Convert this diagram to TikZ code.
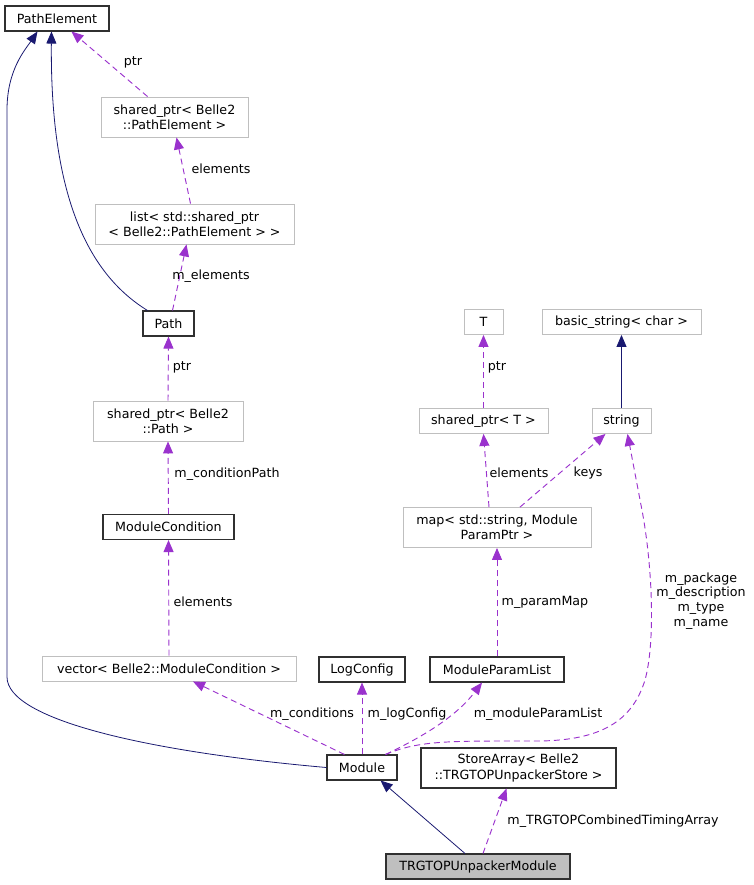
\documentclass[tikz,border=0pt]{standalone}
\usepackage{fontspec}
\setmainfont{DejaVu Sans}
\usetikzlibrary{arrows.meta,calc}
\definecolor{edgeblue}{HTML}{191970}
\definecolor{edgepurple}{HTML}{9A32CD}
\definecolor{boxgray}{HTML}{BFBFBF}
\definecolor{boxline}{HTML}{303030}
\begin{document}
\begin{tikzpicture}[x=0.75pt,y=-0.75pt,
 cls/.style={draw=boxline,line width=0.8pt,fill=white,inner sep=1pt,minimum height=18.75pt,font=\fontsize{9.5}{11.5}\selectfont,align=center},
 ext/.style={cls,draw=boxgray,line width=0.65pt},
 cur/.style={cls,fill=boxgray},
 wd/.style={minimum width=#1*0.75pt},
 two/.style={minimum height=30pt},
 inh/.style={draw=edgeblue,line width=0.6pt,-{Triangle[length=9pt,width=7.5pt]}},
 use/.style={draw=edgepurple,line width=0.7pt,dash pattern=on 4.5pt off 3pt,-{Triangle[length=9pt,width=7.5pt]}},
 lbl/.style={font=\fontsize{9.5}{11}\selectfont,align=center,inner sep=0pt}]
 \useasboundingbox (0,0) rectangle (753,885);
 \node[cls,wd=104] (pe) at (57,18.5) {PathElement};
 \node[ext,wd=147,two] (sppe) at (174.5,117) {shared\_ptr< Belle2\\::PathElement >};
 \node[ext,wd=199,two] (list) at (194.5,224) {list< std::shared\_ptr\\< Belle2::PathElement > >};
 \node[cls,wd=51] (path) at (168.5,323.5) {Path};
 \node[ext,wd=150,two] (sppath) at (168,421) {shared\_ptr< Belle2\\::Path >};
 \node[cls,wd=131] (modcond) at (168.5,527) {ModuleCondition};
 \node[ext,wd=254] (vec) at (169,668.5) {vector< Belle2::ModuleCondition >};
 \node[cls,wd=86] (logcfg) at (362,669.5) {LogConfig};
 \node[cls,wd=134] (plist) at (497,669.5) {ModuleParamList};
 \node[cls,wd=70] (module) at (362,767.5) {Module};
 \node[cls,wd=195,two] (store) at (518.5,768) {StoreArray< Belle2\\::TRGTOPUnpackerStore >};
 \node[cur,wd=184] (trg) at (478,866.5) {TRGTOPUnpackerModule};
 \node[ext,wd=39] (tt) at (483.5,322) {T};
 \node[ext,wd=159] (bstr) at (621.5,322) {basic\_string< char >};
 \node[ext,wd=129] (spt) at (483.5,421) {shared\_ptr< T >};
 \node[ext,wd=59] (str) at (621.5,421) {string};
 \node[ext,wd=188,two] (pmap) at (497,527.5) {map< std::string, Module\\ParamPtr >};

 \draw[inh] (module.west) .. controls (150,752) and (7,720) .. (7,677) -- (7,110) .. controls (7,70) and (25,50) .. ($(pe.south west)+(33,0)$);
 \draw[inh] ($(path.north west)+(5,0)$) .. controls (90,275) and (50,200) .. ($(pe.south west)+(47,0)$);
 \draw[inh] (str.north) -- (bstr.south);
 \draw[inh] ($(trg.north)+(-13,0)$) -- ($(module.south east)+(-17,0)$);

 \draw[use] ($(sppe.north west)+(47,0)$) -- ($(pe.south west)+(67,0)$);
 \draw[use] ($(list.north)+(-4,0)$) -- ($(sppe.south)+(2,0)$);
 \draw[use] ($(path.north)+(4,0)$) -- ($(list.south)+(-8,0)$);
 \draw[use] (sppath.north) -- (path.south);
 \draw[use] (modcond.north) -- (sppath.south);
 \draw[use] (vec.north) -- (modcond.south);
 \draw[use] ($(module.north west)+(18,0)$) -- ($(vec.south)+(24,0)$);
 \draw[use] (module.north) -- (logcfg.south);
 \draw[use] ($(module.north east)+(-12,0)$) .. controls (420,738) and (455,718) .. ($(plist.south)+(-15,0)$);
 \draw[use] ($(module.north east)+(-12,0)$) .. controls (420,740) and (450,741) .. (540,741) .. controls (600,740) and (632,722) .. (645,680) .. controls (656,640) and (652,560) .. (641,505) -- ($(str.south)+(6,0)$);
 \draw[use] (plist.north) -- (pmap.south);
 \draw[use] ($(pmap.north)+(-8,0)$) -- (spt.south);
 \draw[use] ($(pmap.north)+(23,0)$) -- ($(str.south)+(-16,0)$);
 \draw[use] (spt.north) -- (tt.south);
 \draw[use] ($(trg.north)+(5,0)$) -- ($(store.south)+(-12,0)$);

 \node[lbl] at (133,62) {ptr};
 \node[lbl] at (221,169) {elements};
 \node[lbl] at (211,276) {m\_elements};
 \node[lbl] at (182,367) {ptr};
 \node[lbl] at (227,474) {m\_conditionPath};
 \node[lbl] at (203,602) {elements};
 \node[lbl] at (312,714) {m\_conditions};
 \node[lbl] at (407,714) {m\_logConfig};
 \node[lbl] at (538,714) {m\_moduleParamList};
 \node[lbl] at (613,821) {m\_TRGTOPCombinedTimingArray};
 \node[lbl] at (545,602) {m\_paramMap};
 \node[lbl] at (497,367) {ptr};
 \node[lbl] at (519,473) {elements};
 \node[lbl] at (588,473) {keys};
 \node[lbl] at (701,601) {m\_package\\m\_description\\m\_type\\m\_name};
\end{tikzpicture}
\end{document}
